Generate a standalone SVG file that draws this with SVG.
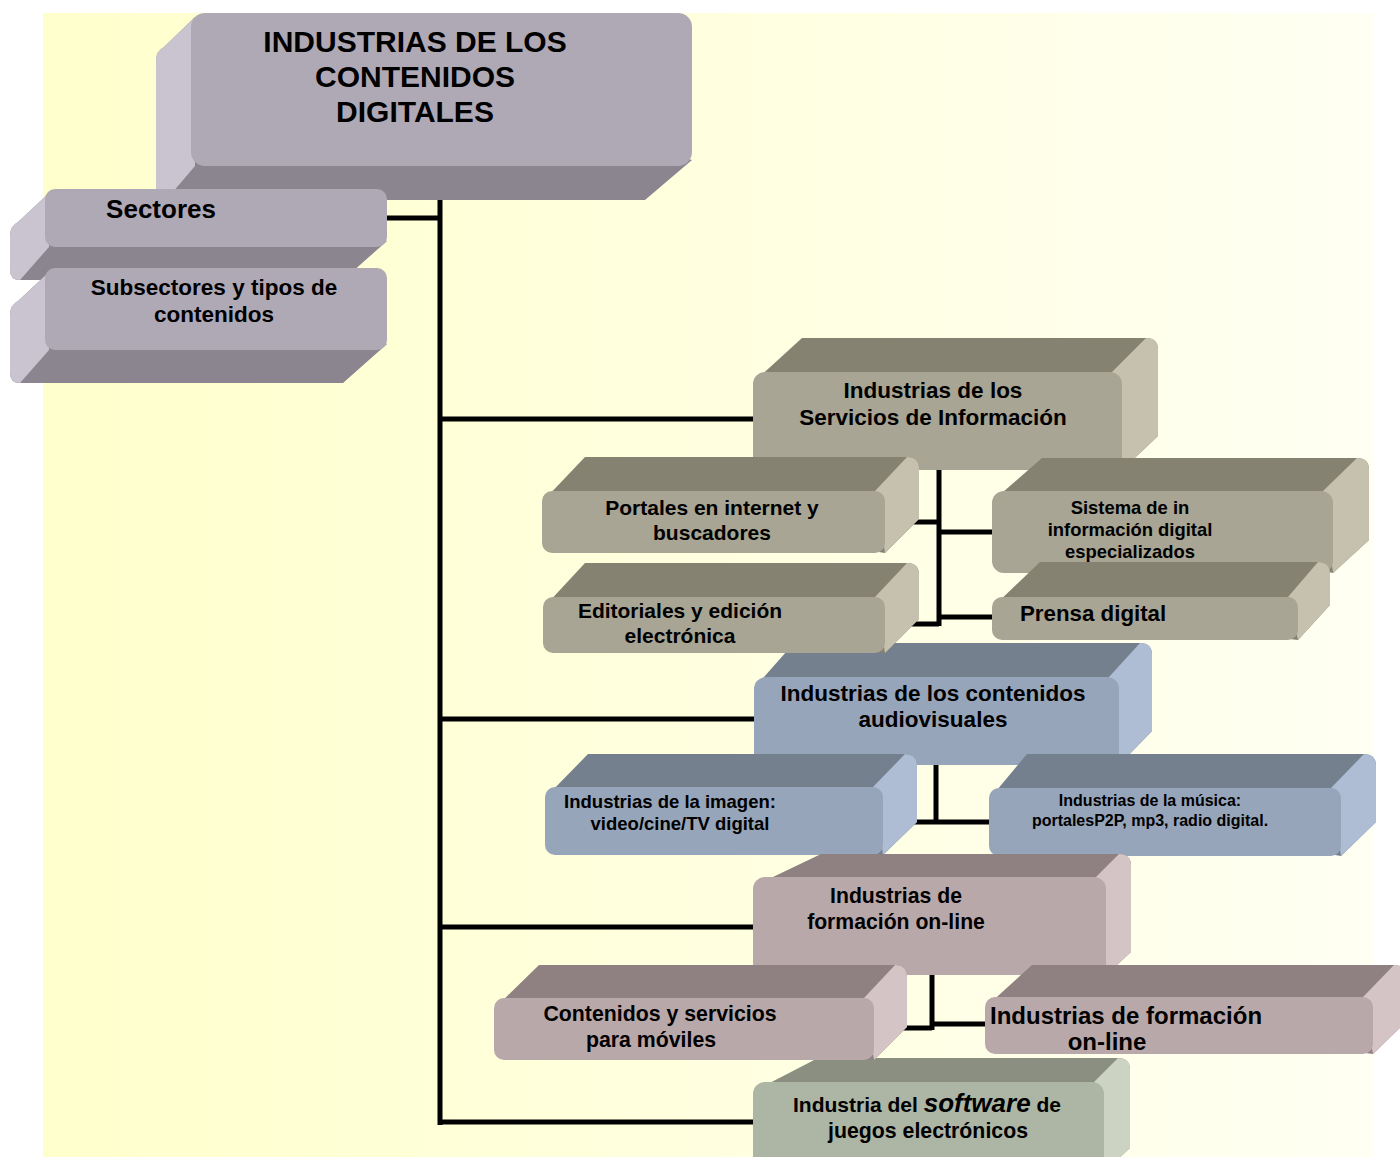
<svg xmlns="http://www.w3.org/2000/svg" width="1400" height="1157" viewBox="0 0 1400 1157">
<defs>
<linearGradient id="bg" x1="0" y1="0" x2="1" y2="0">
<stop offset="0" stop-color="#ffffcc"/>
<stop offset="1" stop-color="#fffff3"/>
</linearGradient>
</defs>
<style>
.t{font-family:"Liberation Sans",Arial,sans-serif;font-weight:bold;fill:#000;text-anchor:middle}
.ts{text-anchor:start}
.c{stroke:#000;fill:none;stroke-width:5}
.lav-f{fill:#afa9b5}.lav-s{fill:#c9c4d0}.lav-b{fill:#8a858f}
.kh-f{fill:#a8a594}.kh-t{fill:#858272}.kh-r{fill:#c5c1ae}
.bl-f{fill:#97a5ba}.bl-t{fill:#75808f}.bl-r{fill:#aebdd4}
.pk-f{fill:#b9a8a9}.pk-t{fill:#8f8181}.pk-r{fill:#d5c4c5}
.gr-f{fill:#adb5a4}.gr-t{fill:#8a8f81}.gr-r{fill:#ccd3c3}
</style>
<rect x="43" y="13" width="1331" height="1144" fill="url(#bg)"/>

<g id="connectors">
<line class="c" x1="440" y1="195" x2="440" y2="1125" stroke-width="6"/>
<line class="c" x1="380" y1="218" x2="440" y2="218"/>
<line class="c" x1="440" y1="419" x2="760" y2="419"/>
<line class="c" x1="440" y1="719" x2="760" y2="719"/>
<line class="c" x1="440" y1="927" x2="760" y2="927"/>
<line class="c" x1="440" y1="1122" x2="760" y2="1122"/>
<line class="c" x1="939" y1="465" x2="939" y2="626"/>
<line class="c" x1="900" y1="522" x2="939" y2="522"/>
<line class="c" x1="939" y1="532" x2="1000" y2="532"/>
<line class="c" x1="900" y1="624" x2="939" y2="624"/>
<line class="c" x1="939" y1="617" x2="1000" y2="617"/>
<line class="c" x1="936" y1="760" x2="936" y2="824"/>
<line class="c" x1="900" y1="822" x2="995" y2="822"/>
<line class="c" x1="932" y1="970" x2="932" y2="1030"/>
<line class="c" x1="895" y1="1028" x2="932" y2="1028"/>
<line class="c" x1="932" y1="1024" x2="990" y2="1024"/>
</g>

<g id="n-title">
<path class="lav-b" d="M195,17 L164,47 Q156,51 156,61 L156,190 Q156,200 166,200 L645,200 L692,160 Z"/>
<path class="lav-s" d="M195,17 L164,47 Q156,51 156,61 L156,190 Q156,200 166,200 L195,166 Z"/>
<rect class="lav-f" x="191" y="13" width="501" height="153" rx="14"/>
<text class="t" x="415" y="52" font-size="30">INDUSTRIAS DE LOS</text>
<text class="t" x="415" y="87" font-size="30">CONTENIDOS</text>
<text class="t" x="415" y="122" font-size="30">DIGITALES</text>
</g>

<g id="n-sectores">
<path class="lav-b" d="M49,193 L18,222 Q10,226 10,236 L10,270 Q10,280 20,280 L343,280 L387,241 Z"/>
<path class="lav-s" d="M49,193 L18,222 Q10,226 10,236 L10,270 Q10,280 20,280 L49,247 Z"/>
<rect class="lav-f" x="45" y="189" width="342" height="58" rx="10"/>
<text class="t" x="161" y="218" font-size="26">Sectores</text>
</g>

<g id="n-subsectores">
<path class="lav-b" d="M49,272 L18,301 Q10,305 10,315 L10,373 Q10,383 20,383 L343,383 L387,344 Z"/>
<path class="lav-s" d="M49,272 L18,301 Q10,305 10,315 L10,373 Q10,383 20,383 L49,350 Z"/>
<rect class="lav-f" x="45" y="268" width="342" height="82" rx="10"/>
<text class="t" x="214" y="295" font-size="22.5">Subsectores y tipos de</text>
<text class="t" x="214" y="322" font-size="22.5">contenidos</text>
</g>

<g id="n-servicios">
<path class="kh-t" d="M756,380 L802,338 L1146,338 Q1158,338 1158,350 L1158,436 L1122,470 Z"/>
<path class="kh-r" d="M1112,372 L1146,338 Q1158,338 1158,350 L1158,436 L1122,470 Z"/>
<rect class="kh-f" x="753" y="372" width="369" height="98" rx="12"/>
<text class="t" x="933" y="398" font-size="22.5">Industrias de los</text>
<text class="t" x="933" y="425" font-size="22.5">Servicios de Información</text>
</g>

<g id="n-portales">
<path class="kh-t" d="M545,499 L585,457 L907,457 Q919,457 919,469 L919,519 L885,553 Z"/>
<path class="kh-r" d="M875,491 L907,457 Q919,457 919,469 L919,519 L885,553 Z"/>
<rect class="kh-f" x="542" y="491" width="343" height="62" rx="10"/>
<text class="t" x="712" y="515" font-size="21">Portales en internet y</text>
<text class="t" x="712" y="540" font-size="21">buscadores</text>
</g>

<g id="n-sistema">
<path class="kh-t" d="M995,499 L1042,458 L1357,458 Q1369,458 1369,470 L1369,540 L1333,573 Z"/>
<path class="kh-r" d="M1323,491 L1357,458 Q1369,458 1369,470 L1369,540 L1333,573 Z"/>
<rect class="kh-f" x="992" y="491" width="341" height="82" rx="12"/>
<text class="t" x="1130" y="514" font-size="18.4">Sistema de in</text>
<text class="t" x="1130" y="536" font-size="18.4">información digital</text>
<text class="t" x="1130" y="558" font-size="18.4">especializados</text>
</g>

<g id="n-audiovisuales">
<path class="bl-t" d="M757,685 L794,643 L1140,643 Q1152,643 1152,655 L1152,731 L1119,765 Z"/>
<path class="bl-r" d="M1109,677 L1140,643 Q1152,643 1152,655 L1152,731 L1119,765 Z"/>
<rect class="bl-f" x="754" y="677" width="365" height="88" rx="12"/>
<text class="t" x="933" y="701" font-size="22.5">Industrias de los contenidos</text>
<text class="t" x="933" y="727" font-size="22.5">audiovisuales</text>
</g>

<g id="n-editoriales">
<path class="kh-t" d="M546,605 L585,563 L907,563 Q919,563 919,575 L919,619 L885,653 Z"/>
<path class="kh-r" d="M875,597 L907,563 Q919,563 919,575 L919,619 L885,653 Z"/>
<rect class="kh-f" x="543" y="597" width="342" height="56" rx="10"/>
<text class="t" x="680" y="618" font-size="21">Editoriales y edición</text>
<text class="t" x="680" y="643" font-size="21">electrónica</text>
</g>

<g id="n-prensa">
<path class="kh-t" d="M995,605 L1040,562 L1318,562 Q1330,562 1330,574 L1330,605 L1298,640 Z"/>
<path class="kh-r" d="M1288,597 L1318,562 Q1330,562 1330,574 L1330,605 L1298,640 Z"/>
<rect class="kh-f" x="992" y="597" width="306" height="43" rx="10"/>
<text class="t ts" x="1020" y="621" font-size="22.3">Prensa digital</text>
</g>

<g id="n-imagen">
<path class="bl-t" d="M548,795 L588,754 L905,754 Q917,754 917,766 L917,822 L883,855 Z"/>
<path class="bl-r" d="M873,787 L905,754 Q917,754 917,766 L917,822 L883,855 Z"/>
<rect class="bl-f" x="545" y="787" width="338" height="68" rx="10"/>
<text class="t" x="670" y="808" font-size="18.5">Industrias de la imagen:</text>
<text class="t" x="680" y="830" font-size="18.5">video/cine/TV digital</text>
</g>

<g id="n-musica">
<path class="bl-t" d="M992,796 L1027,754 L1364,754 Q1376,754 1376,766 L1376,822 L1341,856 Z"/>
<path class="bl-r" d="M1331,788 L1364,754 Q1376,754 1376,766 L1376,822 L1341,856 Z"/>
<rect class="bl-f" x="989" y="788" width="352" height="68" rx="10"/>
<text class="t" x="1150" y="806" font-size="16">Industrias de la música:</text>
<text class="t" x="1150" y="826" font-size="16">portalesP2P, mp3, radio digital.</text>
</g>

<g id="n-formacion">
<path class="pk-t" d="M756,885 L821,854 L1119,854 Q1131,854 1131,866 L1131,952 L1106,975 Z"/>
<path class="pk-r" d="M1096,877 L1119,854 Q1131,854 1131,866 L1131,952 L1106,975 Z"/>
<rect class="pk-f" x="753" y="877" width="353" height="98" rx="12"/>
<text class="t" x="896" y="903" font-size="21.2">Industrias de</text>
<text class="t" x="896" y="929" font-size="21.2">formación on-line</text>
</g>

<g id="n-software">
<path class="gr-t" d="M756,1090 L818,1058 L1118,1058 Q1130,1058 1130,1070 L1130,1148 L1104,1172 Z"/>
<path class="gr-r" d="M1094,1082 L1118,1058 Q1130,1058 1130,1070 L1130,1148 L1104,1172 Z"/>
<rect class="gr-f" x="753" y="1082" width="351" height="90" rx="12"/>
<text class="t ts" x="793" y="1112" font-size="21">Industria del <tspan font-style="italic" font-size="26">software</tspan> de</text>
<text class="t" x="928" y="1138" font-size="21.3">juegos electrónicos</text>
</g>

<g id="n-moviles">
<path class="pk-t" d="M497,1006 L539,965 L895,965 Q907,965 907,977 L907,1027 L874,1060 Z"/>
<path class="pk-r" d="M864,998 L895,965 Q907,965 907,977 L907,1027 L874,1060 Z"/>
<rect class="pk-f" x="494" y="998" width="380" height="62" rx="10"/>
<text class="t" x="660" y="1021" font-size="21.3">Contenidos y servicios</text>
<text class="t" x="651" y="1047" font-size="21.3">para móviles</text>
</g>

<g id="n-formacion-online">
<path class="pk-t" d="M988,1005 L1032,965 L1394,965 Q1406,965 1406,977 L1406,1022 L1373,1054 Z"/>
<path class="pk-r" d="M1363,997 L1394,965 Q1406,965 1406,977 L1406,1022 L1373,1054 Z"/>
<rect class="pk-f" x="985" y="997" width="388" height="57" rx="10"/>
<text class="t ts" x="990" y="1024" font-size="24">Industrias de formación</text>
<text class="t" x="1107" y="1050" font-size="24">on-line</text>
</g>
</svg>
